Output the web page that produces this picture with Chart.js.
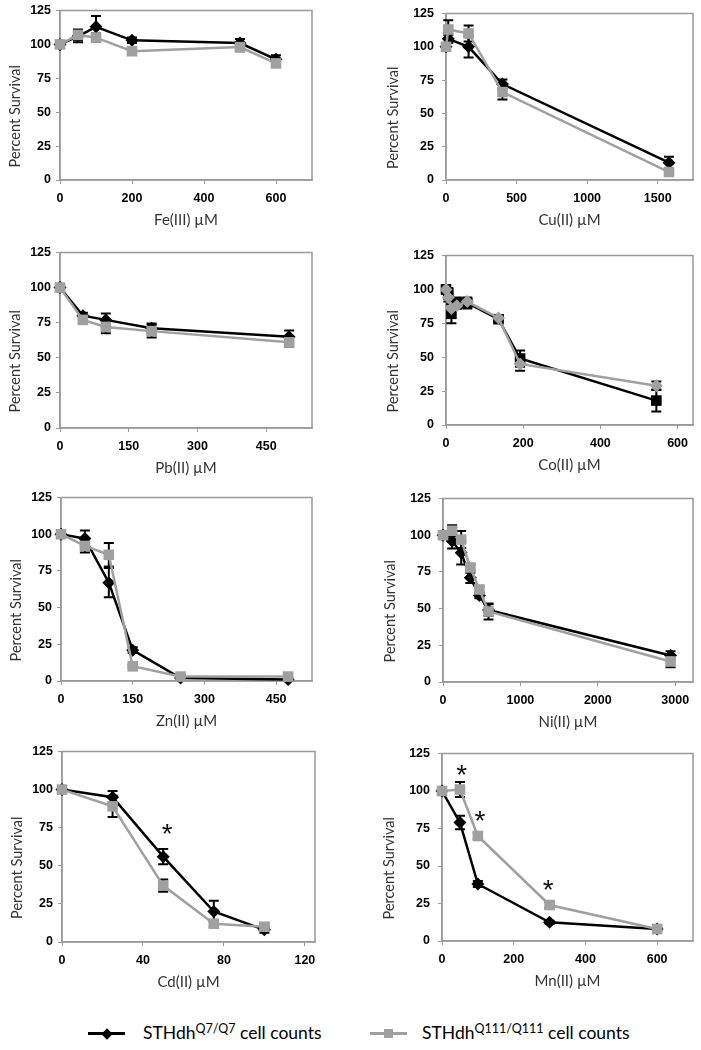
<!DOCTYPE html>
<html>
<head>
<meta charset="utf-8">
<script src="https://cdn.jsdelivr.net/npm/chart.js@4.4.1/dist/chart.umd.min.js"></script>
<style>
  body { margin: 0; background: #fff; width: 701px; height: 1050px; position: relative; overflow: hidden; }
  .panel { position: absolute; }
  .leg { position: absolute; top: 1020px; height: 26px; font-family: Lato, "Open Sans", sans-serif; font-size: 17.5px; color: #000; white-space: nowrap; line-height: 26px; }
  .leg sup { font-size: 12.5px; vertical-align: 6px; line-height: 0; }
  .mark { position: absolute; top: 12px; width: 37px; height: 3px; }
  .mark i { position: absolute; left: 14px; top: -3.5px; width: 9px; height: 9px; }
</style>
</head>
<body>
<div class="leg" style="left:88px">
  <span class="mark" style="left:0;background:#000"><i style="background:#000;transform:rotate(45deg);width:8px;height:8px;left:14.5px;top:-2.5px"></i></span>
  <span style="position:absolute;left:55px">STHdh<sup>Q7/Q7</sup> cell counts</span>
</div>
<div class="leg" style="left:370px">
  <span class="mark" style="left:0;background:#a0a0a0"><i style="background:#a0a0a0"></i></span>
  <span style="position:absolute;left:52px">STHdh<sup>Q111/Q111</sup> cell counts</span>
</div>
<script>
// concentrations (µM) and percent survival
const feConc = [0, 50, 100, 200, 500, 600];
const feQ7 = [100, 106, 113, 103, 101, 89];
const feQ7Err = [1, 4.5, 8, 2, 3, 3];
const feQ111 = [100, 107, 105, 95, 98, 86];
const feQ111Err = [1, 4, 3, 2, 3, 2];
const feTicks = [0, 200, 400, 600];

const cuConc = [0, 16, 160, 400, 1580];
const cuQ7 = [100, 106, 100, 72, 13];
const cuQ7Err = [2, 3, 8, 3.5, 4.5];
const cuQ111 = [100, 113, 110, 66, 6];
const cuQ111Err = [2, 7, 6, 5.5, 2];
const cuTicks = [0, 500, 1000, 1500];

const pbConc = [0, 50, 100, 200, 500];
const pbQ7 = [100, 80, 77, 71, 65];
const pbQ7Err = [1, 2, 4.5, 3.5, 4.5];
const pbQ111 = [100, 77, 72, 69, 61];
const pbQ111Err = [1, 2, 4.5, 4.5, 3];
const pbTicks = [0, 150, 300, 450];

const coConc = [0, 6, 14, 28, 55, 136, 192, 545];
const coQ7 = [100, 97, 82, 90, 90, 78, 49, 18];
const coQ7Err = [3, 4, 7, 4, 4, 2, 6, 8];
const coQ111 = [100, 94, 86, 88, 91, 79, 45, 29];
const coQ111Err = [2, 3, 3, 2, 2, 2, 5, 3];
const coTicks = [0, 200, 400, 600];

const znConc = [0, 50, 100, 150, 250, 475];
const znQ7 = [100, 97, 67, 21, 2, 1];
const znQ7Err = [1, 5.5, 10, 2, 1, 1];
const znQ111 = [100, 92, 86, 10, 3, 3];
const znQ111Err = [1, 4.5, 8, 1, 1, 1];
const znTicks = [0, 150, 300, 450];

const niConc = [0, 118, 235, 353, 470, 588, 2940];
const niQ7 = [100, 96, 88, 71, 59, 49, 18];
const niQ7Err = [1, 5, 8, 3.5, 2, 4, 3];
const niQ111 = [100, 103, 97, 78, 63, 48, 14];
const niQ111Err = [1, 3.8, 5.8, 2, 2, 5.5, 4];
const niTicks = [0, 1000, 2000, 3000];

const cdConc = [0, 25, 50, 75, 100];
const cdQ7 = [100, 95, 56, 20, 8];
const cdQ7Err = [1, 4, 5, 7, 2];
const cdQ111 = [100, 89, 37, 12, 10];
const cdQ111Err = [1, 7, 4, 2, 2];
const cdTicks = [0, 40, 80, 120];

const mnConc = [0, 50, 100, 300, 600];
const mnQ7 = [100, 79, 38, 12.5, 8];
const mnQ7Err = [1, 4.5, 2, 1, 1];
const mnQ111 = [100, 101, 70, 24, 8];
const mnQ111Err = [1, 5, 2, 2, 1];
const mnTicks = [0, 200, 400, 600];

// significance asterisks (x in µM, y in %)
const cdStarX = [52];
const cdStarY = [74];
const mnStarX = [55, 106, 296];
const mnStarY = [114, 83, 37];

const yTicks = [0, 25, 50, 75, 100, 125];

const BLACK = '#000000';
const GRAY = '#a0a0a0';
const AXIS = '#9a9a9a';

const panels = [
  { box: [60, 10, 312, 180], conc: feConc, q7: feQ7, q7Err: feQ7Err, q111: feQ111, q111Err: feQ111Err, xMax: 700, xTicks: feTicks, title: 'Fe(III) µM', col: 0 },
  { box: [446, 10, 693, 180], conc: cuConc, q7: cuQ7, q7Err: cuQ7Err, q111: cuQ111, q111Err: cuQ111Err, xMax: 1750, xTicks: cuTicks, title: 'Cu(II) µM', col: 1 },
  { box: [60, 252, 312, 428], conc: pbConc, q7: pbQ7, q7Err: pbQ7Err, q111: pbQ111, q111Err: pbQ111Err, xMax: 550, xTicks: pbTicks, title: 'Pb(II) µM', col: 0 },
  { box: [446, 252, 693, 425], conc: coConc, q7: coQ7, q7Err: coQ7Err, q111: coQ111, q111Err: coQ111Err, xMax: 640, xTicks: coTicks, title: 'Co(II) µM', col: 1, swap: true },
  { box: [61, 497, 312, 681], conc: znConc, q7: znQ7, q7Err: znQ7Err, q111: znQ111, q111Err: znQ111Err, xMax: 525, xTicks: znTicks, title: 'Zn(II) µM', col: 0 },
  { box: [443, 495, 693, 682], conc: niConc, q7: niQ7, q7Err: niQ7Err, q111: niQ111, q111Err: niQ111Err, xMax: 3230, xTicks: niTicks, title: 'Ni(II) µM', col: 1 },
  { box: [62, 751, 315, 942], conc: cdConc, q7: cdQ7, q7Err: cdQ7Err, q111: cdQ111, q111Err: cdQ111Err, xMax: 125, xTicks: cdTicks, title: 'Cd(II) µM', col: 0, starX: cdStarX, starY: cdStarY },
  { box: [442, 750, 693, 941], conc: mnConc, q7: mnQ7, q7Err: mnQ7Err, q111: mnQ111, q111Err: mnQ111Err, xMax: 700, xTicks: mnTicks, title: 'Mn(II) µM', col: 1, starX: mnStarX, starY: mnStarY }
];

const tickFont = { family: '"Liberation Sans", Arial, sans-serif', size: 12.5, weight: 'bold' };
const titleFont = { family: 'Lato, "Open Sans", sans-serif', size: 15 };

function makePanel(p) {
  const yW = 60, padT = 12, padR = 8, xH = 54;
  const [l, t, r, b] = p.box;
  const w = r - l + yW + padR;
  const h = b - t + padT + xH;

  const div = document.createElement('div');
  div.className = 'panel';
  div.style.left = (l - yW) + 'px';
  div.style.top = (t - padT) + 'px';
  div.style.width = w + 'px';
  div.style.height = h + 'px';
  const cv = document.createElement('canvas');
  cv.width = w;
  cv.height = h;
  div.appendChild(cv);
  document.body.appendChild(div);

  const errs = [p.q111Err, p.q7Err];

  // plot-area frame like the Excel original
  const frame = {
    id: 'frame',
    beforeDatasetsDraw(chart) {
      const a = chart.chartArea, ctx = chart.ctx;
      ctx.save();
      ctx.strokeStyle = AXIS;
      ctx.lineWidth = 1.5;
      ctx.strokeRect(a.left, a.top, a.right - a.left, a.bottom - a.top);
      ctx.restore();
    }
  };

  // Excel centres the y title on the whole chart, a bit below the plot centre
  const yTitle = {
    id: 'yTitle',
    afterDraw(chart) {
      const a = chart.chartArea, ctx = chart.ctx;
      ctx.save();
      ctx.translate(p.col ? 7 : 15, (a.top + a.bottom) / 2 + 21);
      ctx.rotate(-Math.PI / 2);
      ctx.font = '14.5px Lato, "Open Sans", sans-serif';
      ctx.fillStyle = '#333';
      ctx.textAlign = 'center';
      ctx.textBaseline = 'middle';
      ctx.fillText('Percent Survival', 0, 0);
      ctx.restore();
    }
  };

  const errorBars = {
    id: 'errorBars',
    beforeDatasetsDraw(chart) {
      const ctx = chart.ctx, ys = chart.scales.y;
      ctx.save();
      ctx.strokeStyle = BLACK;
      ctx.lineWidth = 2;
      chart.data.datasets.forEach((ds, i) => {
        const meta = chart.getDatasetMeta(i);
        meta.data.forEach((pt, j) => {
          const e = errs[i][j];
          if (!e) return;
          const v = ds.data[j].y;
          const y1 = ys.getPixelForValue(v + e), y2 = ys.getPixelForValue(v - e);
          ctx.beginPath();
          ctx.moveTo(pt.x, y1); ctx.lineTo(pt.x, y2);
          ctx.moveTo(pt.x - 5, y1); ctx.lineTo(pt.x + 5, y1);
          ctx.moveTo(pt.x - 5, y2); ctx.lineTo(pt.x + 5, y2);
          ctx.stroke();
        });
      });
      ctx.restore();
    }
  };

  const stars = {
    id: 'stars',
    afterDatasetsDraw(chart) {
      if (!p.starX) return;
      const ctx = chart.ctx;
      ctx.save();
      ctx.fillStyle = '#111';
      ctx.font = '28px "Liberation Sans", Arial, sans-serif';
      ctx.textAlign = 'center';
      ctx.textBaseline = 'middle';
      p.starX.forEach((sx, i) => {
        ctx.fillText('*', chart.scales.x.getPixelForValue(sx), chart.scales.y.getPixelForValue(p.starY[i]) + 6);
      });
      ctx.restore();
    }
  };

  new Chart(cv, {
    type: 'line',
    data: {
      datasets: [
        {
          label: 'STHdh Q111/Q111 cell counts',
          data: p.conc.map((x, i) => ({ x: x, y: p.q111[i] })),
          borderColor: GRAY, backgroundColor: GRAY,
          pointBorderColor: GRAY, pointBackgroundColor: GRAY,
          pointStyle: p.swap ? 'rectRot' : 'rect',
          pointRadius: p.swap ? 6.5 : 7.5,
          pointBorderWidth: 0,
          borderWidth: 2.5, tension: 0, clip: false, order: 0
        },
        {
          label: 'STHdh Q7/Q7 cell counts',
          data: p.conc.map((x, i) => ({ x: x, y: p.q7[i] })),
          borderColor: BLACK, backgroundColor: BLACK,
          pointBorderColor: BLACK, pointBackgroundColor: BLACK,
          pointStyle: p.swap ? 'rect' : 'rectRot',
          pointRadius: p.swap ? 7.5 : 6.5,
          pointBorderWidth: 0,
          borderWidth: 2.5, tension: 0, clip: false, order: 1
        }
      ]
    },
    options: {
      responsive: false,
      animation: false,
      layout: { padding: { top: padT, right: padR, left: 0, bottom: 0 } },
      plugins: { legend: { display: false }, tooltip: { enabled: false } },
      scales: {
        x: {
          type: 'linear', min: 0, max: p.xMax,
          afterBuildTicks: s => { s.ticks = p.xTicks.map(v => ({ value: v })); },
          ticks: { font: tickFont, color: '#000', padding: 7, maxRotation: 0, autoSkip: false, callback: v => String(v) },
          grid: { drawOnChartArea: false, tickLength: 4, color: AXIS },
          border: { color: AXIS, width: 1.5 },
          title: { display: true, text: p.title, font: titleFont, color: '#333', padding: { top: 0, bottom: 5 } },
          afterFit: s => { s.height = xH; }
        },
        y: {
          type: 'linear', min: 0, max: 125,
          afterBuildTicks: s => { s.ticks = yTicks.map(v => ({ value: v })); },
          ticks: { font: tickFont, color: '#000', padding: p.col ? 8 : 5, callback: v => String(v) },
          grid: { drawOnChartArea: false, tickLength: 4, color: AXIS },
          border: { color: AXIS, width: 1.5 },
          title: { display: false },
          afterFit: s => { s.width = yW; }
        }
      }
    },
    plugins: [frame, errorBars, stars, yTitle]
  });
}

panels.forEach(makePanel);
</script>
</body>
</html>
